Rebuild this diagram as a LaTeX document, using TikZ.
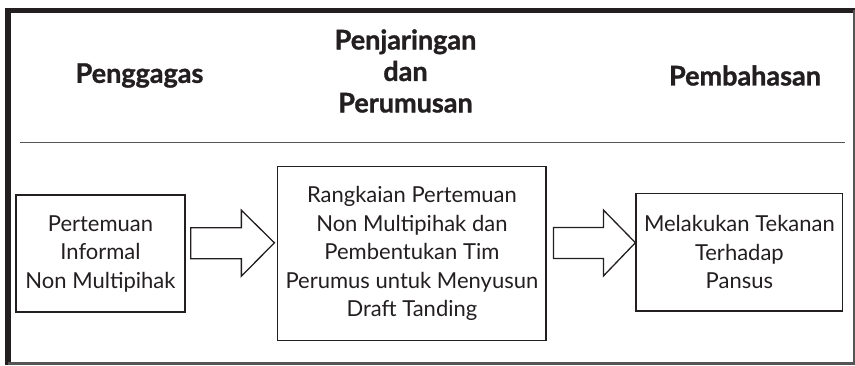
\documentclass[tikz,border=0pt]{standalone}
\usepackage{fontspec}
\setmainfont{Lato}
\newfontfamily\headfont[BoldFeatures={FakeBold=1.2}]{Lato}
\usetikzlibrary{calc}
\definecolor{ink}{RGB}{35,31,32}
\definecolor{rule}{RGB}{85,85,85}
\tikzset{
  head/.style={font=\fontsize{27}{31.5}\headfont\bfseries, text=ink, align=center, inner sep=0pt},
  stepbox/.style={draw=ink, line width=1.3pt, inner sep=0pt, align=center, text=ink,
    font=\fontsize{22}{28.5}\selectfont},
  blk/.style={draw=ink, line width=1.3pt, line join=miter, fill=white},
}
\begin{document}
\begin{tikzpicture}[x=1pt,y=-1pt]
\useasboundingbox (0,0) rectangle (855,365);
% frame
\draw[ink, line width=5.5pt] (5,10.5) -- (855,10.5);
\draw[ink, line width=5.3pt] (8,8) -- (8,365);
\draw[rule, line width=2.5pt] (8,363.7) -- (855,363.7);
\draw[rule, line width=1.5pt] (854,10) -- (854,365);
\draw[rule, line width=1.3pt] (20,142.7) -- (845,142.7);
% headers
\node[head] (h1) at (139.5,75.5) {Penggagas};
\node[head] (h2) at (405.5,71) {Penjaringan\\dan\\Perumusan};
\node[head] (h3) at (745,75.5) {Pembahasan};
% boxes
\node[stepbox, minimum width=169pt, minimum height=117pt] (b1) at (100.5,253.6)
  {Pertemuan\\Informal\\Non Multipihak};
\node[stepbox, minimum width=268.3pt, minimum height=174pt] (b2) at (411.9,253.7)
  {Rangkaian Pertemuan\\Non Multipihak dan\\Pembentukan Tim\\Perumus untuk Menyusun\\Draft Tanding};
\node[stepbox, minimum width=206.7pt, minimum height=117.7pt] (b3) at (739.4,252.2)
  {Melakukan Tekanan\\Terhadap\\Pansus};
% block arrows
\path (b1.east) ++(5,-10.4) coordinate (a1s);
\path (b2.west) ++(-2.7,-10.9) coordinate (a1t);
\draw[blk] (a1s) ++(0,-15.5) -- ++(50.7,0) -- ++(0,-17.5) -- (a1t)
  -- ($(a1s)+(50.7,33)$) -- ++(0,-17.5) -- ($(a1s)+(0,15.5)$) -- cycle;
\path (b2.east) ++(6.7,-10.7) coordinate (a2s);
\path (b3.west) ++(0,-9.5) coordinate (a2t);
\draw[blk] (a2s) ++(0,-15.5) -- ++(50,0) -- ++(0,-17.5) -- (a2t)
  -- ($(a2s)+(50,33)$) -- ++(0,-17.5) -- ($(a2s)+(0,15.5)$) -- cycle;
\end{tikzpicture}
\end{document}
